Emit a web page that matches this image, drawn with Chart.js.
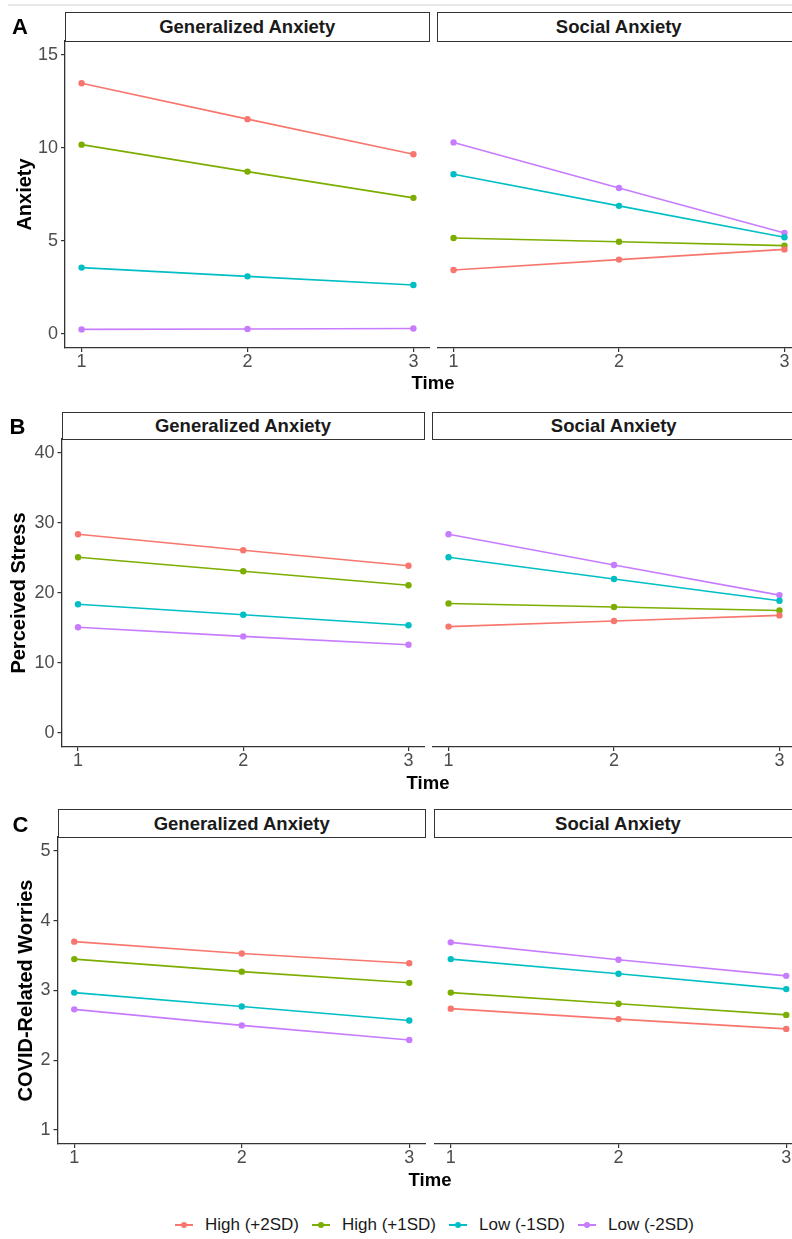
<!DOCTYPE html>
<html>
<head>
<meta charset="utf-8">
<title>Anxiety, stress and COVID worries over time</title>
<script src="https://cdn.jsdelivr.net/npm/chart.js@4.4.1/dist/chart.umd.min.js"></script>
<style>
  html, body {
    margin: 0;
    padding: 0;
    background: #fff;
    width: 792px;
    height: 1239px;
    overflow: hidden;
    position: relative;
    font-family: "Liberation Sans", Arial, sans-serif;
  }
  .topline { position: absolute; left: 8px; top: 4px; width: 784px; height: 2px; background: #e8e8e8; }
  canvas { position: absolute; }
  .strip {
    position: absolute;
    box-sizing: border-box;
    border: 1.5px solid #333;
    background: #fff;
    font-weight: bold;
    font-size: 18.5px;
    color: #1a1a1a;
    display: flex;
    align-items: center;
    justify-content: center;
  }
  .tag, .xtitle {
    position: absolute;
    font-weight: bold;
    line-height: 1;
    color: #000;
    transform: translate(-50%, -50%);
    white-space: nowrap;
  }
  .tag { font-size: 22px; }
  .xtitle { font-size: 18.5px; }
  #legend {
    position: absolute;
    left: 175px;
    top: 1214px;
    height: 22px;
    display: flex;
    align-items: center;
    font-size: 17px;
    color: #1a1a1a;
  }
  .key { position: relative; width: 18px; height: 22px; margin-right: 12px; }
  .key .ln { position: absolute; left: 0; right: 0; top: 10px; height: 1.5px; }
  .key .pt { position: absolute; left: 6px; top: 8px; width: 6px; height: 6px; border-radius: 50%; }
  .item { display: flex; align-items: center; margin-right: 13px; white-space: nowrap; }
</style>
</head>
<body>
<div class="topline"></div>
<div id="legend"></div>

<script>
// x values and groups
const timePoints = [1, 2, 3];
const groupLabels = ['High (+2SD)', 'High (+1SD)', 'Low (-1SD)', 'Low (-2SD)'];
const groupColors = ['#F8766D', '#7CAE00', '#00BFC4', '#C77CFF'];
const facetLabels = ['Generalized Anxiety', 'Social Anxiety'];

// rows follow groupLabels, columns follow timePoints
const anxietyGad = [[13.48, 11.55, 9.66], [10.18, 8.73, 7.32], [3.57, 3.10, 2.64], [0.25, 0.27, 0.30]];
const anxietySad = [[3.44, 4.00, 4.55], [5.16, 4.96, 4.75], [8.59, 6.89, 5.20], [10.30, 7.85, 5.43]];
const stressGad = [[28.4, 26.1, 23.9], [25.1, 23.1, 21.1], [18.4, 16.9, 15.4], [15.1, 13.8, 12.6]];
const stressSad = [[15.2, 16.0, 16.8], [18.5, 18.0, 17.5], [25.1, 22.0, 18.9], [28.4, 24.0, 19.7]];
const worryGad = [[3.70, 3.53, 3.39], [3.45, 3.27, 3.11], [2.97, 2.77, 2.57], [2.73, 2.50, 2.29]];
const worrySad = [[2.74, 2.59, 2.45], [2.97, 2.81, 2.65], [3.45, 3.24, 3.02], [3.69, 3.44, 3.21]];

// tick labels
const timeTicks = [1, 2, 3];
const anxietyTicks = [0, 5, 10, 15];
const stressTicks = [0, 10, 20, 30, 40];
const worryTicks = [1, 2, 3, 4, 5];

// page layout of the three panels (pixels)
const panels = [
  { tag: 'A', tagX: 20, tagY: 27, yTitle: 'Anxiety', titlePad: 13, stripTop: 12, plotTop: 41, plotBottom: 348,
    leftFacet: [65, 429.5], rightFacet: [437, 800.5], ticks: anxietyTicks, data: [anxietyGad, anxietySad], timeX: 433, timeY: 383 },
  { tag: 'B', tagX: 17.5, tagY: 427, yTitle: 'Perceived Stress', titlePad: 7.5, stripTop: 412, plotTop: 439, plotBottom: 747,
    leftFacet: [61.5, 424.5], rightFacet: [432, 795.5], ticks: stressTicks, data: [stressGad, stressSad], timeX: 428, timeY: 783 },
  { tag: 'C', tagX: 20.5, tagY: 825, yTitle: 'COVID-Related Worries', titlePad: 14, stripTop: 809, plotTop: 837, plotBottom: 1144,
    leftFacet: [57.5, 426], rightFacet: [433.5, 802.5], ticks: worryTicks, data: [worryGad, worrySad], timeX: 430, timeY: 1180 }
];

const TOP_PAD = 20;
const X_AXIS_H = 30;
const axisColor = '#333333';
const tickColor = '#4D4D4D';

// ggplot-style 5% expansion
function expand(ticks) {
  const lo = ticks[0], hi = ticks[ticks.length - 1];
  const pad = (hi - lo) * 0.05;
  return [lo - pad, hi + pad];
}

function addDiv(cls, text, css) {
  const d = document.createElement('div');
  d.className = cls;
  d.textContent = text;
  Object.assign(d.style, css);
  document.body.appendChild(d);
  return d;
}

function makeFacet(panel, facetIdx) {
  const isLeft = facetIdx === 0;
  const span = isLeft ? panel.leftFacet : panel.rightFacet;
  const canvasLeft = isLeft ? 0 : span[0];
  const width = Math.round(span[1] - canvasLeft);
  const height = panel.plotBottom - panel.plotTop + TOP_PAD + X_AXIS_H;

  const canvas = document.createElement('canvas');
  canvas.width = width;
  canvas.height = height;
  canvas.style.left = canvasLeft + 'px';
  canvas.style.top = (panel.plotTop - TOP_PAD) + 'px';
  canvas.style.width = width + 'px';
  canvas.style.height = height + 'px';
  document.body.appendChild(canvas);

  const [xMin, xMax] = expand(timeTicks);
  const [yMin, yMax] = expand(panel.ticks);
  const values = panel.data[facetIdx];

  return new Chart(canvas, {
    type: 'line',
    data: {
      datasets: groupLabels.map((label, i) => ({
        label: label,
        data: timePoints.map((t, j) => ({ x: t, y: values[i][j] })),
        borderColor: groupColors[i],
        backgroundColor: groupColors[i],
        borderWidth: 1.6,
        pointRadius: 3.2,
        pointBorderWidth: 0,
        tension: 0
      }))
    },
    options: {
      responsive: false,
      animation: false,
      devicePixelRatio: 1,
      layout: { autoPadding: false, padding: { top: TOP_PAD, left: 0, right: 0, bottom: 0 } },
      plugins: { legend: { display: false }, tooltip: { enabled: false } },
      scales: {
        x: {
          type: 'linear',
          min: xMin,
          max: xMax,
          afterBuildTicks: s => { s.ticks = timeTicks.map(v => ({ value: v })); },
          afterFit: s => { s.height = X_AXIS_H; s.paddingLeft = 0; s.paddingRight = 0; },
          grid: { display: true, drawOnChartArea: false, drawTicks: true, tickLength: 4, color: axisColor, lineWidth: 1.2 },
          border: { display: true, color: axisColor, width: 1.3 },
          ticks: { color: tickColor, padding: 1, font: { family: '"Liberation Sans", Arial, sans-serif', size: 18, lineHeight: 1 } }
        },
        y: {
          display: isLeft,
          min: yMin,
          max: yMax,
          afterBuildTicks: s => { s.ticks = panel.ticks.map(v => ({ value: v })); },
          afterFit: s => { s.width = isLeft ? span[0] : 0; s.paddingTop = 0; s.paddingBottom = 0; },
          grid: { display: true, drawOnChartArea: false, drawTicks: true, tickLength: 4, color: axisColor, lineWidth: 1.2 },
          border: { display: true, color: axisColor, width: 1.3 },
          ticks: { color: tickColor, padding: 3, font: { family: '"Liberation Sans", Arial, sans-serif', size: 18, lineHeight: 1 } },
          title: {
            display: true,
            text: panel.yTitle,
            color: '#000',
            padding: { top: panel.titlePad, bottom: 0 },
            font: { family: '"Liberation Sans", Arial, sans-serif', size: 20, weight: 'bold', lineHeight: 1.2 }
          }
        }
      }
    }
  });
}

panels.forEach(panel => {
  makeFacet(panel, 0);
  makeFacet(panel, 1);

  [panel.leftFacet, panel.rightFacet].forEach((span, i) => {
    addDiv('strip', facetLabels[i], {
      left: span[0] + 'px',
      top: panel.stripTop + 'px',
      width: (span[1] - span[0]) + 'px',
      height: (panel.plotTop - panel.stripTop + 1) + 'px'
    });
  });

  addDiv('tag', panel.tag, { left: panel.tagX + 'px', top: panel.tagY + 'px' });
  addDiv('xtitle', 'Time', { left: panel.timeX + 'px', top: panel.timeY + 'px' });
});

// legend at the bottom
const legend = document.getElementById('legend');
groupLabels.forEach((label, i) => {
  const item = document.createElement('div');
  item.className = 'item';
  const key = document.createElement('div');
  key.className = 'key';
  key.innerHTML = '<div class="ln"></div><div class="pt"></div>';
  key.querySelector('.ln').style.background = groupColors[i];
  key.querySelector('.pt').style.background = groupColors[i];
  const txt = document.createElement('span');
  txt.textContent = label;
  item.appendChild(key);
  item.appendChild(txt);
  legend.appendChild(item);
});
</script>
</body>
</html>
